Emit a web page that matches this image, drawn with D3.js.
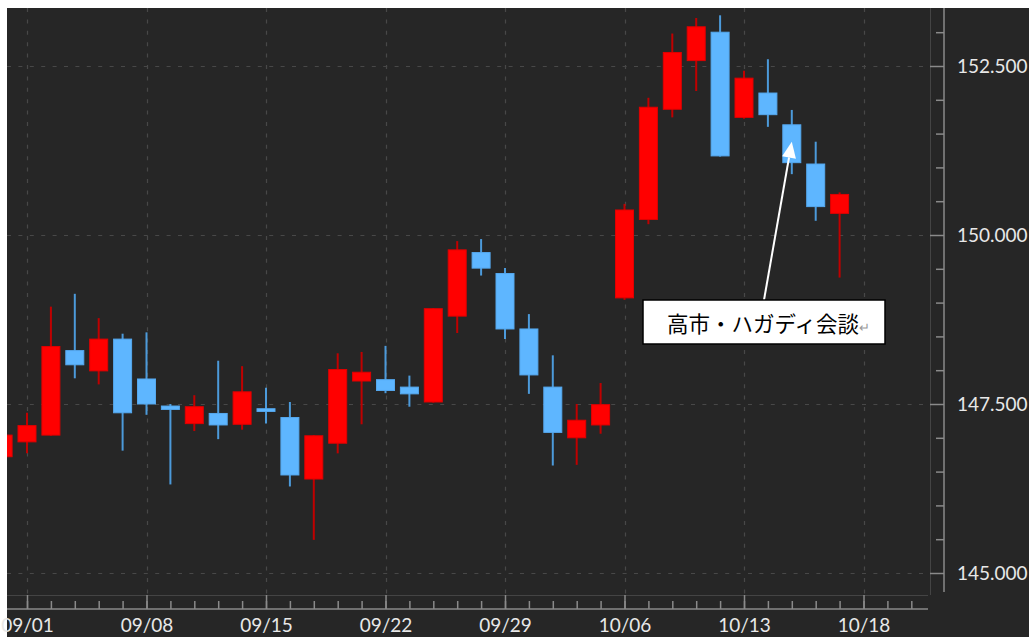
<!DOCTYPE html>
<html><head><meta charset="utf-8">
<script src="https://cdn.jsdelivr.net/npm/d3@7"></script>
<style>
html,body{margin:0;padding:0;background:#fff;}
svg{display:block;}
</style></head><body>
<svg id="chart" width="1032" height="643"></svg>
<script>
// ---- data ----
const dates = ["08/29","09/01","09/02","09/03","09/04","09/05","09/08","09/09","09/10","09/11","09/12",
  "09/15","09/16","09/17","09/18","09/19","09/22","09/23","09/24","09/25","09/26",
  "09/29","09/30","10/01","10/02","10/03","10/06","10/07","10/08","10/09","10/10",
  "10/13","10/14","10/15","10/16","10/17"];
const open  = [146.72,146.94,147.04,148.29,147.99,148.46,147.87,147.47,147.21,147.36,147.20,
  147.43,147.30,146.39,146.92,147.84,147.86,147.75,147.53,148.80,149.74,
  149.43,148.61,147.75,147.00,147.19,149.07,150.23,151.86,152.58,153.00,
  151.74,152.10,151.63,151.05,150.32];
const high  = [147.10,147.37,148.94,149.13,148.77,148.54,148.56,147.50,147.63,148.14,148.06,
  147.74,147.53,147.04,148.25,148.27,148.36,147.92,148.92,149.91,149.94,
  149.51,148.83,148.22,147.50,147.81,150.46,152.03,152.98,153.21,153.25,
  152.43,152.60,151.85,151.38,150.63];
const low   = [146.60,146.77,147.03,147.88,147.79,146.81,147.34,146.31,147.10,146.98,147.12,
  147.21,146.28,145.49,146.77,147.20,147.66,147.46,147.52,148.55,149.40,
  148.46,147.65,146.59,146.60,147.06,149.04,150.16,151.74,152.13,151.16,
  151.72,151.60,150.90,150.21,149.37];
const close = [147.04,147.18,148.35,148.08,148.46,147.37,147.50,147.42,147.46,147.19,147.68,
  147.39,146.45,147.03,148.01,147.97,147.70,147.65,148.91,149.78,149.51,
  148.61,147.93,147.08,147.26,147.49,150.37,151.89,152.70,153.08,151.17,
  152.32,151.78,151.07,150.42,150.60];
const xTickLabels = ["09/01","09/08","09/15","09/22","09/29","10/06","10/13","10/18"];
const xTickSlots  = [1,6,11,16,21,26,31,36];
const yMajorTicks = [145,147.5,150,152.5];
const yMinorTicks = [145.5,146,146.5,147,148,148.5,149,149.5,150.5,151,151.5,152,153];
const annotationText = "高市・ハガディ会談";
const annotationDate = "10/15";
const annotationValue = 151.38;

// ---- layout ----
const panel = {x0:7, y0:8, x1:1029, y1:637};
const plot  = {left:7, right:930, top:8, bottom:595};
const yAxisX = 944, xAxisY = 609;

const svg = d3.select("#chart");
const x = d3.scaleLinear().domain([1,36]).range([27,863.5]);
const y = d3.scaleLinear().domain([145,152.5]).range([573,66]);

svg.append("rect").attr("x",panel.x0).attr("y",panel.y0)
  .attr("width",panel.x1-panel.x0).attr("height",panel.y1-panel.y0).attr("fill","#262626");

svg.append("defs").append("clipPath").attr("id","clip").append("rect")
  .attr("x",plot.left).attr("y",plot.top)
  .attr("width",plot.right-plot.left).attr("height",plot.bottom-plot.top);

// grid
const grid = svg.append("g").attr("stroke","#484848").attr("stroke-width",1.2).attr("stroke-dasharray","4,7.4");
grid.selectAll("line.h").data(yMajorTicks).join("line")
  .attr("x1",plot.left).attr("x2",plot.right)
  .attr("y1",d=>Math.round(y(d))+0.5).attr("y2",d=>Math.round(y(d))+0.5);
grid.selectAll("line.v").data(xTickSlots).join("line")
  .attr("y1",plot.top).attr("y2",plot.bottom)
  .attr("x1",d=>Math.round(x(d))+0.5).attr("x2",d=>Math.round(x(d))+0.5);

// plot borders
svg.append("line").attr("x1",plot.right+0.5).attr("x2",plot.right+0.5).attr("y1",plot.top).attr("y2",plot.bottom)
  .attr("stroke","#444");
svg.append("line").attr("x1",plot.left).attr("x2",plot.right-2).attr("y1",plot.bottom+0.5).attr("y2",plot.bottom+0.5)
  .attr("stroke","#444");

// candles
const data = dates.map((d,i)=>({date:d,slot:i,o:open[i],h:high[i],l:low[i],c:close[i]}));
const upFill="#ff0000", upWick="#c00000", dnFill="#5eb6ff", dnWick="#4c9ada";
const bodyW = 18;
const cg = svg.append("g").attr("clip-path","url(#clip)");
cg.selectAll("line.wick").data(data).join("line")
  .attr("x1",d=>x(d.slot)).attr("x2",d=>x(d.slot))
  .attr("y1",d=>y(d.h)).attr("y2",d=>y(d.l))
  .attr("stroke",d=>d.c>=d.o?upWick:dnWick).attr("stroke-width",2);
cg.selectAll("rect.body").data(data).join("rect")
  .attr("x",d=>x(d.slot)-bodyW/2).attr("width",bodyW)
  .attr("y",d=>y(Math.max(d.o,d.c)))
  .attr("height",d=>Math.max(2,Math.abs(y(d.o)-y(d.c))))
  .attr("fill",d=>d.c>=d.o?upFill:dnFill)
  .attr("stroke",d=>d.c>=d.o?"#e00000":"#55a8ee").attr("stroke-width",1);

// y axis
const axisColor="#8a8a8a", labelColor="#e8e8e8";
const yAx = svg.append("g").attr("transform",`translate(${yAxisX},0)`);
yAx.append("g").call(d3.axisLeft(y).tickValues(yMajorTicks).tickSize(14).tickFormat(""))
  .call(g=>g.select(".domain").remove());
yAx.append("g").call(d3.axisLeft(y).tickValues(yMinorTicks).tickSize(8).tickFormat(""))
  .call(g=>g.select(".domain").remove());
yAx.selectAll(".tick line").attr("stroke",axisColor).attr("stroke-width",1.5);
yAx.append("line").attr("x1",0).attr("x2",0).attr("y1",plot.top).attr("y2",592)
  .attr("stroke",axisColor).attr("stroke-width",1.5);
yAx.append("g").call(d3.axisRight(y).tickValues(yMajorTicks).tickSize(0).tickPadding(13).tickFormat(d3.format(".3f")))
  .call(g=>g.select(".domain").remove())
  .selectAll("text").attr("fill",labelColor).attr("font-family","Lato").attr("font-size",19);

// x axis
const xAx = svg.append("g").attr("transform",`translate(0,${xAxisY})`);
const minorSlots = d3.range(1,39);
xAx.append("g").call(d3.axisTop(x).tickValues(minorSlots).tickSize(8).tickFormat(""))
  .call(g=>g.select(".domain").remove());
xAx.append("g").call(d3.axisTop(x).tickValues(xTickSlots).tickSize(14).tickFormat(""))
  .call(g=>g.select(".domain").remove());
xAx.selectAll(".tick line").attr("stroke",axisColor).attr("stroke-width",1.5);
xAx.append("line").attr("x1",plot.left).attr("x2",928).attr("y1",0).attr("y2",0)
  .attr("stroke",axisColor).attr("stroke-width",1.5);
xAx.append("g").call(d3.axisBottom(x).tickValues(xTickSlots).tickSize(0).tickPadding(10)
    .tickFormat((d,i)=>xTickLabels[i]))
  .call(g=>g.select(".domain").remove())
  .selectAll("text").attr("fill",labelColor).attr("font-family","Lato").attr("font-size",19);

// annotation
const ti = dates.indexOf(annotationDate);
const tip = [x(ti), y(annotationValue)];
const tail = [764, 300];
const ang = Math.atan2(tip[1]-tail[1], tip[0]-tail[0]);
const headLen = 16, headW = 7;
const base = [tip[0]-headLen*Math.cos(ang), tip[1]-headLen*Math.sin(ang)];
svg.append("line").attr("x1",tail[0]).attr("y1",tail[1]).attr("x2",base[0]).attr("y2",base[1])
  .attr("stroke","#fff").attr("stroke-width",2);
svg.append("path").attr("fill","#fff").attr("d",
  `M${tip[0]},${tip[1]} L${base[0]+headW*Math.sin(ang)},${base[1]-headW*Math.cos(ang)} L${base[0]-headW*Math.sin(ang)},${base[1]+headW*Math.cos(ang)} Z`);
svg.append("rect").attr("x",643).attr("y",300).attr("width",242).attr("height",44)
  .attr("fill","#fff").attr("stroke","#000").attr("stroke-width",1.5);
const at = svg.append("text").attr("x",667).attr("y",332)
  .attr("font-family","Noto Sans CJK JP").attr("font-size",21.5).attr("fill","#000");
at.append("tspan").text(annotationText);
at.append("tspan").text("↵").attr("font-size",13).attr("fill","#999");
</script>
</body></html>
